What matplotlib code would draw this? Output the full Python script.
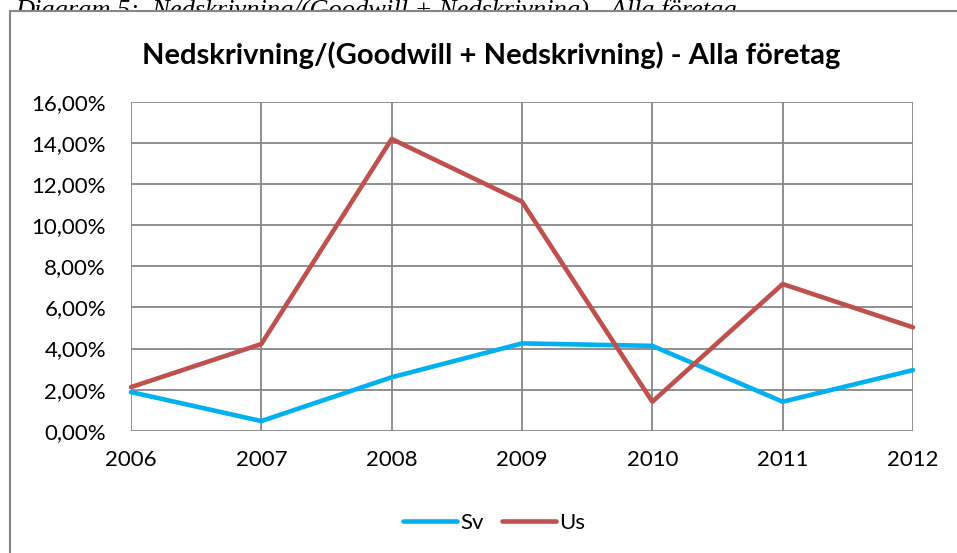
import matplotlib
matplotlib.use("Agg")
import matplotlib.pyplot as plt
from matplotlib.patches import Rectangle
from matplotlib.ticker import FuncFormatter

years = [2006, 2007, 2008, 2009, 2010, 2011, 2012]
sv = [1.88, 0.47, 2.60, 4.25, 4.13, 1.41, 2.95]
us = [2.12, 4.22, 14.20, 11.15, 1.41, 7.14, 5.03]

plt.rcParams['font.family'] = ['Lato', 'DejaVu Sans']

fig = plt.figure(figsize=(9.57, 5.53), dpi=100)
W, H = 957, 553

# caption above the chart box (lower half hidden by the box)
fig.text(15 / W, 1 - 17 / H, "Diagram 5:  Nedskrivning/(Goodwill + Nedskrivning) - Alla företag",
         family='Liberation Serif', style='italic', fontsize=19, ha='left', va='baseline', zorder=0)

# chart box, white with gray border, running off the right and bottom
box = Rectangle((9.5 / W, -0.1), 1.2, 1 - 10.5 / H + 0.1, transform=fig.transFigure,
                facecolor='white', edgecolor='#868686', linewidth=1.5, zorder=1)
fig.patches.append(box)

ax = fig.add_axes([131 / W, 1 - 430.7 / H, (913 - 131) / W, (430.7 - 102) / H])
ax.set_zorder(2)
ax.patch.set_alpha(0)

ax.plot(years, sv, color='#00B0F0', linewidth=3.3, label='Sv', clip_on=False,
        solid_capstyle='round', solid_joinstyle='round', zorder=3)
ax.plot(years, us, color='#C0504D', linewidth=3.3, label='Us', clip_on=False,
        solid_capstyle='round', solid_joinstyle='round', zorder=4)

ax.set_xlim(2006, 2012)
ax.set_ylim(0, 16)
ax.set_xticks(years)
ax.set_yticks(range(0, 17, 2))
ax.yaxis.set_major_formatter(FuncFormatter(lambda v, p: f"{v:.2f}%".replace('.', ',')))
ax.grid(True, color='#878787', linewidth=1.3)
ax.set_axisbelow(True)
for s in ax.spines.values():
    s.set_visible(False)
ax.tick_params(length=0, labelsize=16, colors='black')
ax.tick_params(axis='y', pad=18)
ax.tick_params(axis='x', pad=14)

fig.text(491 / W, 1 - 55 / H, "Nedskrivning/(Goodwill + Nedskrivning) - Alla företag",
         fontsize=21, fontweight='bold', ha='center', va='center', zorder=5)

fig.legend(loc='center', bbox_to_anchor=(494 / W, 1 - 523 / H), ncol=2, frameon=False,
           fontsize=16, handlelength=2.45, handletextpad=0.15, columnspacing=0.8)

fig.savefig("out.png", dpi=100)
